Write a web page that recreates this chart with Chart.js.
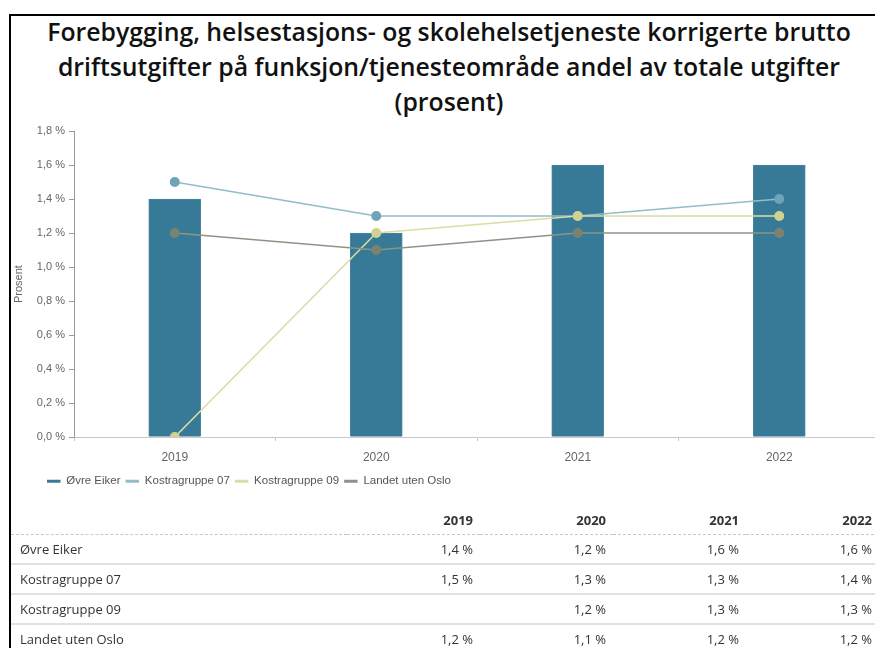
<!DOCTYPE html>
<html>
<head>
<meta charset="utf-8">
<script src="https://cdn.jsdelivr.net/npm/chart.js@4/dist/chart.umd.min.js"></script>
<style>
	html, body { margin: 0; padding: 0; background: #fff; overflow: hidden; }
	#frame {
		position: absolute; left: 9px; top: 14px; width: 900px; height: 700px;
		border-left: 2px solid #000; border-top: 2px solid #000;
	}
	#title {
		position: absolute; left: 0; top: -2px; width: 876px; margin: 0;
		font-family: "Open Sans", sans-serif; font-weight: 600; font-size: 24.8px;
		line-height: 35px; text-align: center; color: #111; white-space: nowrap;
	}
	#chartBox { position: absolute; left: 0; top: 104px; width: 874px; height: 387px; }
	#dataTable {
		position: absolute; left: 0; top: 490px; border-collapse: collapse; table-layout: fixed;
		font-family: "Open Sans", sans-serif; font-size: 13px; color: #333;
	}
	#dataTable th, #dataTable td { padding: 0; white-space: nowrap; }
	#dataTable th { font-weight: 700; height: 28px; border-bottom: 1px dashed #c8c8c8; text-align: right; padding-right: 7px; }
	#dataTable td { height: 28px; border-bottom: 2px solid #e1e1e1; text-align: right; padding-right: 7px; }
	#dataTable td.name { text-align: left; padding-left: 9px; padding-right: 0; }
</style>
</head>
<body>
<div id="frame">
	<h1 id="title">Forebygging, helsestasjons- og skolehelsetjeneste korrigerte brutto<br>driftsutgifter på funksjon/tjenesteområde andel av totale utgifter<br>(prosent)</h1>
	<div id="chartBox"><canvas id="chart"></canvas></div>
	<table id="dataTable"></table>
</div>
<script>
//#region data
const years = ['2019', '2020', '2021', '2022'];
const seriesNames = ['Øvre Eiker', 'Kostragruppe 07', 'Kostragruppe 09', 'Landet uten Oslo'];
const ovreEiker = [1.4, 1.2, 1.6, 1.6];
const kostra07 = [1.5, 1.3, 1.3, 1.4];
const kostra09 = [null, 1.2, 1.3, 1.3]; //2019 is blank in the table
const landet = [1.2, 1.1, 1.2, 1.2];
const yTicksMax = 1.8;
const yTicksStep = 0.2;
//#endregion

const barColor = '#367a97';
const axisFont = { family: '"Liberation Sans", Arial, sans-serif', size: 11 };

const fmt = (v) => v.toFixed(1).replace('.', ',') + ' %';

//move the legend so it starts under the axis title like the original
const legendShift = {
	id: 'legendShift',
	beforeDraw(chart) {
		chart.legend.left = 31;
	}
};

const lineSet = (label, data, lineColor, pointColor, order) => ({
	type: 'line',
	label: label,
	data: data,
	borderColor: lineColor,
	backgroundColor: pointColor,
	pointBackgroundColor: pointColor,
	pointBorderWidth: 0,
	pointRadius: 5,
	borderWidth: 1.5,
	tension: 0,
	order: order,
	legendColor: lineColor
});

const chart = new Chart(document.getElementById('chart'), {
	data: {
		labels: years,
		datasets: [{
			type: 'bar',
			label: seriesNames[0],
			data: ovreEiker,
			backgroundColor: barColor,
			borderColor: '#4a87a1',
			borderWidth: 1,
			barThickness: 52,
			order: 10,
			legendColor: barColor
		},
		lineSet(seriesNames[1], kostra07, '#93bccb', '#6fa3b8', 3),
		//the chart plots the missing 2019 value at zero
		lineSet(seriesNames[2], kostra09.map((v) => v === null ? 0 : v), '#dcdca6', '#d2d290', 2),
		lineSet(seriesNames[3], landet, '#8c9585', '#7b8370', 1)]
	},
	options: {
		responsive: true,
		maintainAspectRatio: false,
		animation: false,
		layout: { padding: { top: 11, right: 3, bottom: 10, left: 0 } },
		plugins: {
			tooltip: { enabled: false },
			legend: {
				position: 'bottom',
				align: 'start',
				labels: {
					boxWidth: 13.5,
					boxHeight: 3,
					padding: 5,
					color: '#555',
					font: { family: axisFont.family, size: 11.5 },
					generateLabels: (chart) => chart.data.datasets.map((ds, i) => ({
						text: ds.label,
						fillStyle: ds.legendColor,
						strokeStyle: ds.legendColor,
						lineWidth: 0,
						fontColor: '#555',
						hidden: false,
						datasetIndex: i
					}))
				}
			}
		},
		scales: {
			x: {
				grid: { display: true, drawOnChartArea: false, drawTicks: true, tickLength: 4, color: '#c8c8c8', offset: true },
				border: { color: '#c8c8c8' },
				ticks: { color: '#666', font: { family: axisFont.family, size: 12 }, padding: 9 },
				afterFit: (axis) => { axis.height -= 3; }
			},
			y: {
				min: 0,
				max: yTicksMax,
				grid: { display: true, drawOnChartArea: false, drawTicks: true, tickLength: 5, color: '#999' },
				border: { color: '#999' },
				ticks: { stepSize: yTicksStep, color: '#666', font: axisFont, padding: 4, callback: (v) => fmt(v) },
				title: { display: true, text: 'Prosent', color: '#666', font: axisFont, padding: { top: 1, bottom: 4 } },
				afterFit: (axis) => { axis.width = 63; }
			}
		}
	},
	plugins: [legendShift]
});

//build the table under the chart
const table = document.getElementById('dataTable');
const colgroup = document.createElement('colgroup');
[336, 133, 133, 133, 133].forEach((w) => {
	const col = document.createElement('col');
	col.style.width = w + 'px';
	colgroup.appendChild(col);
});
table.appendChild(colgroup);
const head = document.createElement('tr');
head.appendChild(document.createElement('th'));
years.forEach((y) => {
	const th = document.createElement('th');
	th.textContent = y;
	head.appendChild(th);
});
table.appendChild(head);
[ovreEiker, kostra07, kostra09, landet].forEach((values, i) => {
	const tr = document.createElement('tr');
	const nameCell = document.createElement('td');
	nameCell.className = 'name';
	nameCell.textContent = seriesNames[i];
	tr.appendChild(nameCell);
	values.forEach((v) => {
		const td = document.createElement('td');
		td.textContent = v === null ? '' : fmt(v);
		tr.appendChild(td);
	});
	table.appendChild(tr);
});
</script>
</body>
</html>
